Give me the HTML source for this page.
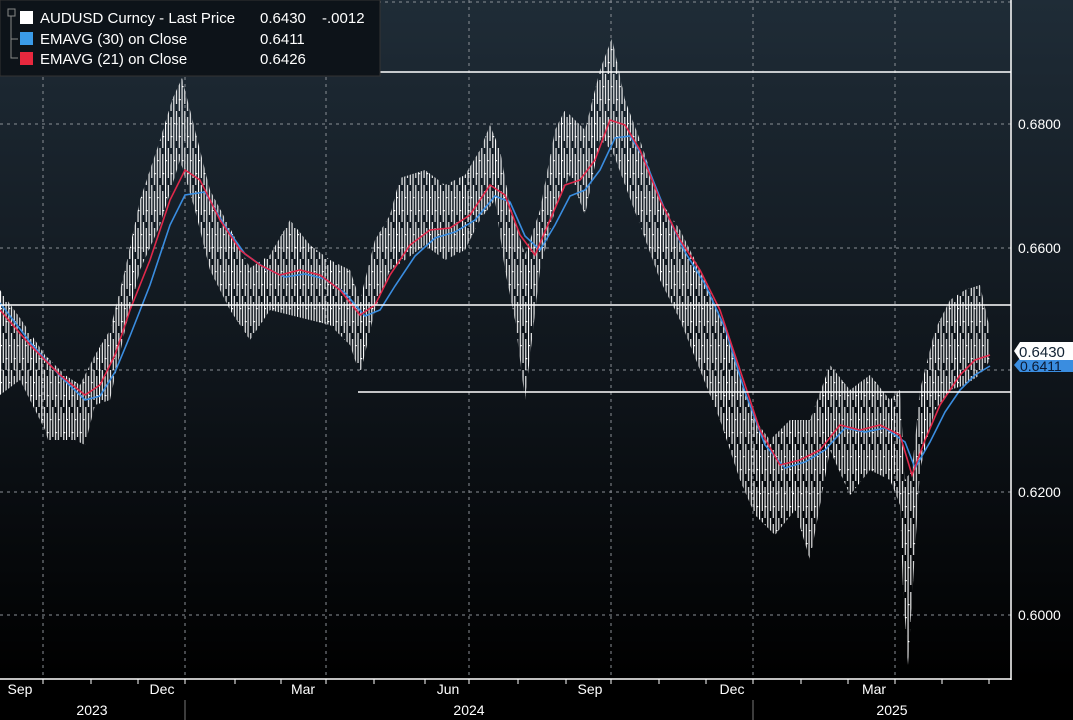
<!DOCTYPE html>
<html><head><meta charset="utf-8"><style>
html,body{margin:0;padding:0;background:#000;}
#c{position:absolute;left:0;top:0;width:1073px;height:720px;}
</style></head><body>
<svg id="c" width="1073" height="720" xmlns="http://www.w3.org/2000/svg" font-family="Liberation Sans, sans-serif">
<defs>
<linearGradient id="bg" x1="0" y1="0" x2="0" y2="1">
<stop offset="0" stop-color="#1f2c37"/><stop offset="0.55" stop-color="#0f151b"/><stop offset="1" stop-color="#000"/></linearGradient>
<pattern id="st" patternUnits="userSpaceOnUse" width="8.25" height="37">
<rect x="0" y="0" width="1.1" height="37" fill="#fff"/>
<rect x="2.75" y="0" width="1.1" height="30" fill="#fff"/>
<rect x="5.5" y="6" width="1.1" height="31" fill="#fff"/>
<rect x="0" y="12" width="2" height="1.2" fill="#fff"/>
<rect x="5.5" y="25" width="2" height="1.2" fill="#fff"/>
</pattern>
</defs>
<rect x="0" y="0" width="1073" height="680" fill="url(#bg)"/>
<g stroke="#8a8f95" stroke-width="1" stroke-dasharray="3,4">
<line x1="0" y1="2" x2="1011" y2="2"/><line x1="0" y1="124" x2="1011" y2="124"/>
<line x1="0" y1="248" x2="1011" y2="248"/><line x1="0" y1="370" x2="1011" y2="370"/>
<line x1="0" y1="492" x2="1011" y2="492"/><line x1="0" y1="615" x2="1011" y2="615"/>
<line x1="43" y1="0" x2="43" y2="679"/><line x1="185" y1="0" x2="185" y2="679"/>
<line x1="326" y1="0" x2="326" y2="679"/><line x1="469" y1="0" x2="469" y2="679"/>
<line x1="611" y1="0" x2="611" y2="679"/><line x1="753" y1="0" x2="753" y2="679"/>
<line x1="895" y1="0" x2="895" y2="679"/>
</g>
<polygon fill="url(#st)" points="0,290 20,318 45,355 65,375 80,385 95,355 110,330 125,270 140,200 160,140 172,100 182,78 195,130 210,190 230,228 250,268 270,255 290,220 310,245 330,260 350,270 360,300 375,240 390,215 400,178 425,170 445,185 465,175 480,150 490,125 500,150 510,205 525,255 540,210 555,130 565,110 585,130 600,70 612,38 625,100 640,140 660,200 680,230 700,270 720,315 740,375 755,420 770,440 790,420 810,420 830,365 850,390 870,375 890,400 900,390 905,480 912,470 920,390 935,330 950,300 965,290 980,285 990,330 990,360 980,375 965,385 950,390 935,410 920,470 912,600 908,665 903,590 900,505 890,480 870,470 850,495 830,450 810,560 795,510 775,535 755,515 740,480 720,420 700,370 680,320 660,280 640,225 625,185 612,150 600,140 585,215 570,175 555,210 540,270 525,400 515,320 505,270 495,200 480,220 465,250 445,260 425,245 405,260 390,270 375,310 360,375 350,345 330,325 310,320 290,315 270,310 250,340 230,310 210,270 195,210 180,160 160,225 140,270 125,330 110,400 95,405 85,445 75,440 65,440 48,440 45,430 20,380 0,395"/>
<polyline fill="none" stroke="#3a8de0" stroke-width="1.6" points="0,303 30,342 60,376 85,400 100,396 115,372 130,336 150,285 170,225 185,195 205,192 225,226 245,254 265,268 285,277 305,274 325,279 345,293 365,316 380,310 395,286 415,256 435,238 455,232 475,220 495,196 510,202 525,236 540,250 555,225 570,196 585,190 600,170 615,138 630,136 645,160 665,210 685,252 705,284 725,328 745,392 765,445 785,468 805,462 825,450 845,428 865,432 885,428 905,442 915,468 930,442 945,412 960,390 975,375 990,366"/>
<polyline fill="none" stroke="#e0284a" stroke-width="1.6" points="0,310 30,345 60,375 85,395 100,385 115,355 130,310 150,260 170,200 185,170 200,180 220,220 240,250 260,265 280,275 300,270 320,275 340,290 360,315 375,305 390,275 410,245 430,230 450,228 470,215 490,185 505,195 520,235 535,255 550,220 565,185 580,180 595,160 610,120 625,125 640,150 660,200 680,240 700,270 720,310 740,370 760,430 780,465 800,460 820,450 840,425 860,430 880,425 900,435 912,475 925,440 940,405 960,375 975,360 990,355"/>
<g stroke="#fff" stroke-width="1.5">
<line x1="0" y1="72" x2="1011" y2="72"/>
<line x1="0" y1="305" x2="1011" y2="305"/>
<line x1="358" y1="392" x2="1011" y2="392"/>
<line x1="1011" y1="0" x2="1011" y2="680"/>
<line x1="0" y1="679" x2="1011" y2="679"/>
</g>
<g stroke="#fff" stroke-width="1">
<line x1="43" y1="679" x2="43" y2="684"/><line x1="91" y1="679" x2="91" y2="684"/><line x1="138" y1="679" x2="138" y2="684"/>
<line x1="185" y1="679" x2="185" y2="684"/><line x1="235" y1="679" x2="235" y2="684"/><line x1="281" y1="679" x2="281" y2="684"/>
<line x1="326" y1="679" x2="326" y2="684"/><line x1="374" y1="679" x2="374" y2="684"/><line x1="425" y1="679" x2="425" y2="684"/>
<line x1="469" y1="679" x2="469" y2="684"/><line x1="518" y1="679" x2="518" y2="684"/><line x1="566" y1="679" x2="566" y2="684"/>
<line x1="611" y1="679" x2="611" y2="684"/><line x1="659" y1="679" x2="659" y2="684"/><line x1="706" y1="679" x2="706" y2="684"/>
<line x1="753" y1="679" x2="753" y2="684"/><line x1="801" y1="679" x2="801" y2="684"/><line x1="848" y1="679" x2="848" y2="684"/>
<line x1="895" y1="679" x2="895" y2="684"/><line x1="942" y1="679" x2="942" y2="684"/><line x1="989" y1="679" x2="989" y2="684"/>
</g>
<g stroke="#777" stroke-width="1"><line x1="185" y1="700" x2="185" y2="720"/><line x1="753" y1="700" x2="753" y2="720"/></g>
<g fill="#fff" font-size="14">
<text x="1018" y="129">0.6800</text>
<text x="1018" y="253">0.6600</text>
<text x="1018" y="497">0.6200</text>
<text x="1018" y="620">0.6000</text>
</g>
<path d="M1014,365 l6,-7 h53 v14 h-53 z" fill="#3a8de0"/>
<text x="1020" y="371" fill="#0b1a33" font-size="14">0.6411</text>
<path d="M1014,351 l6,-9 h53 v18 h-53 z" fill="#fff"/>
<text x="1019" y="357" fill="#123" font-size="15">0.6430</text>
<g fill="#fff" font-size="14" text-anchor="middle">
<text x="20" y="694">Sep</text><text x="162" y="694">Dec</text><text x="303" y="694">Mar</text>
<text x="448" y="694">Jun</text><text x="590" y="694">Sep</text><text x="732" y="694">Dec</text>
<text x="874" y="694">Mar</text>
<text x="92" y="715">2023</text><text x="469" y="715">2024</text><text x="892" y="715">2025</text>
</g>
<rect x="0" y="0" width="380" height="76" fill="#0d1319" stroke="#333" stroke-width="1"/>
<g stroke="#888" fill="none" stroke-width="1"><rect x="8" y="9" width="7" height="7"/><path d="M11,16 V58 H18 M11,39 H18"/></g>
<rect x="20" y="11" width="13" height="13" fill="#fff"/>
<rect x="20" y="32" width="13" height="13" fill="#3a9be8"/>
<rect x="20" y="52" width="13" height="13" fill="#e8283e"/>
<g fill="#fff" font-size="15">
<text x="40" y="23">AUDUSD Curncy - Last Price</text><text x="260" y="23">0.6430</text><text x="322" y="23">-.0012</text>
<text x="40" y="44">EMAVG (30)  on Close</text><text x="260" y="44">0.6411</text>
<text x="40" y="64">EMAVG (21)  on Close</text><text x="260" y="64">0.6426</text>
</g>
</svg>
</body></html>
